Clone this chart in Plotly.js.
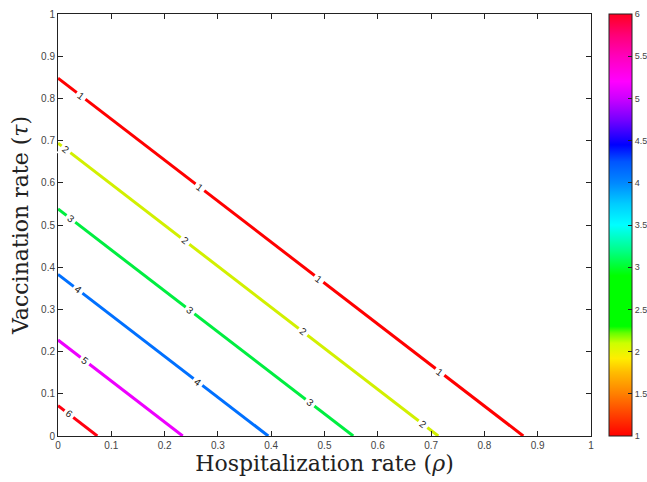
<!DOCTYPE html>
<html>
<head>
<meta charset="utf-8">
<script src="https://cdn.plot.ly/plotly-3.0.1.min.js"></script>
<style>html,body{margin:0;padding:0;background:#fff;}#chart{width:647px;height:482px;}</style>
</head>
<body>
<div id="chart"></div>
<script>
// Contour levels and where each straight contour meets the axes
const levels = [1, 2, 3, 4, 5, 6];
const yIntercepts = [0.848, 0.694, 0.538, 0.383, 0.2275, 0.072];   // tau at rho = 0
const xIntercepts = [0.873, 0.7135, 0.554, 0.3946, 0.234, 0.0738]; // rho at tau = 0
const lineColors = ['#ff0000', '#d2f000', '#00ee40', '#0070ff', '#ee00ff', '#ff0010'];
// label positions (rho) along each contour
const labelRho = [
  [0.044, 0.266, 0.49, 0.717],
  [0.015, 0.238, 0.46, 0.685],
  [0.0235, 0.248, 0.473],
  [0.038, 0.263],
  [0.05],
  [0.02]
];
// colorbar
const cbStops = [1, 1.25, 1.5, 1.75, 1.92, 2.1, 2.22, 2.3, 2.9, 3.2, 3.5, 3.75, 4.0, 4.25, 4.45, 4.75, 5.0, 5.2, 5.5, 5.75, 6];
const cbColors = ['#ff0000', '#ff4000', '#ff8000', '#ffbb00', '#ffee00', '#ccff00', '#66ff00', '#00ff00', '#00ff00', '#00ff88', '#00ffff', '#00ccff', '#0088ff', '#0055ff', '#0000ff', '#7700ff', '#cc00ff', '#ff00ff', '#ff00bb', '#ff0077', '#ff0020'];
const cbTicks = [1, 1.5, 2, 2.5, 3, 3.5, 4, 4.5, 5, 5.5, 6];
const xTicks = [0, 0.1, 0.2, 0.3, 0.4, 0.5, 0.6, 0.7, 0.8, 0.9, 1];
const yTicks = [0, 0.1, 0.2, 0.3, 0.4, 0.5, 0.6, 0.7, 0.8, 0.9, 1];

const traces = [];
const annotations = [];
const W = 533, H = 422;
levels.forEach((lv, i) => {
  traces.push({
    type: 'scatter', mode: 'lines',
    x: [0, xIntercepts[i]], y: [yIntercepts[i], 0],
    line: {color: lineColors[i], width: 3},
    hoverinfo: 'skip', showlegend: false
  });
  const ang = Math.atan((yIntercepts[i] * H) / (xIntercepts[i] * W)) * 180 / Math.PI;
  labelRho[i].forEach(r => {
    annotations.push({
      x: r, y: yIntercepts[i] * (1 - r / xIntercepts[i]),
      xref: 'x', yref: 'y', text: String(lv), showarrow: false,
      textangle: ang, bgcolor: '#ffffff', borderpad: 2,
      font: {family: 'Liberation Sans, Arial, sans-serif', size: 10, color: '#222'}
    });
  });
});
const scale = cbStops.map((s, i) => [(s - 1) / 5, cbColors[i]]);
traces.push({
  type: 'scatter', mode: 'markers',
  x: xIntercepts, y: levels.map(() => 0),
  marker: {
    color: levels, colorscale: scale, cmin: 1, cmax: 6, opacity: 0, size: 1,
    showscale: true,
    colorbar: {
      x: 1.0338, xanchor: 'left', xpad: 0, y: 0, yanchor: 'bottom', ypad: 0,
      len: 1, lenmode: 'fraction', thickness: 23, thicknessmode: 'pixels',
      outlinewidth: 1, outlinecolor: '#222', borderwidth: 0,
      tickmode: 'array', tickvals: cbTicks, ticktext: cbTicks.map(String),
      ticks: 'inside', ticklen: 4, tickcolor: '#222',
      tickfont: {family: 'Liberation Sans, Arial, sans-serif', size: 9, color: '#444'}
    }
  },
  hoverinfo: 'skip', showlegend: false
});

const axisCommon = {
  range: [0, 1], showgrid: false, zeroline: false,
  showline: true, linecolor: '#222', linewidth: 1, mirror: 'ticks',
  ticks: 'inside', ticklen: 5, tickcolor: '#222',
  tickfont: {family: 'Liberation Sans, Arial, sans-serif', size: 10, color: '#444'},
  fixedrange: true
};
const layout = {
  width: 647, height: 482,
  margin: {l: 58, r: 56, t: 14, b: 46, autoexpand: false},
  paper_bgcolor: '#fff', plot_bgcolor: '#fff',
  xaxis: Object.assign({}, axisCommon, {
    tickvals: xTicks, ticktext: xTicks.map(String),
    title: {text: 'Hospitalization rate (<i>ρ</i>)', standoff: 3,
      font: {family: 'DejaVu Serif, serif', size: 22, color: '#222'}}
  }),
  yaxis: Object.assign({}, axisCommon, {
    tickvals: yTicks, ticktext: yTicks.map(String),
    title: {text: 'Vaccination rate (<i>τ</i>)', standoff: 6,
      font: {family: 'DejaVu Serif, serif', size: 22, color: '#222'}}
  }),
  annotations: annotations,
  showlegend: false
};
Plotly.newPlot('chart', traces, layout, {staticPlot: true});
</script>
</body>
</html>
